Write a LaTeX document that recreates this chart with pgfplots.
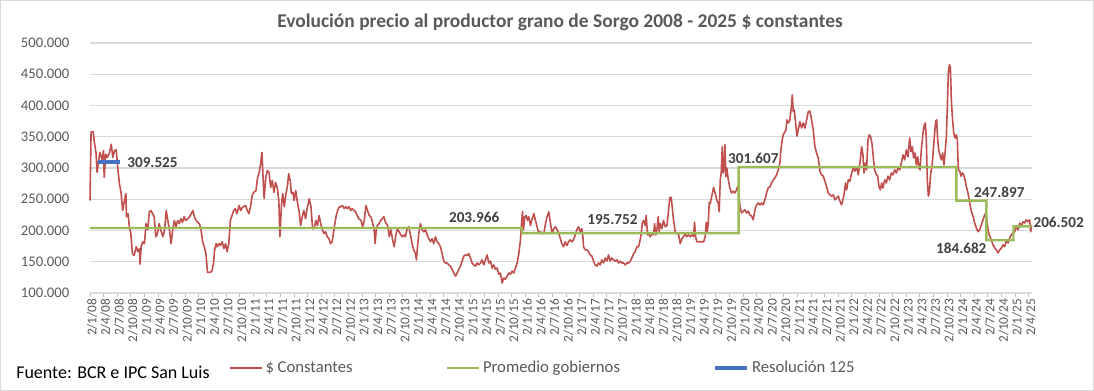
\documentclass[border=0pt]{standalone}
\usepackage{pgfplots}
\usepackage{pgfplotstable}
\pgfplotsset{compat=1.18}
\usepackage{fontspec}
\setmainfont{Carlito}
\definecolor{serred}{HTML}{C0504D}
\definecolor{sergreen}{HTML}{9BBB59}
\definecolor{serblue}{HTML}{4472C4}
\definecolor{gridgray}{HTML}{D9D9D9}
\definecolor{axisgray}{HTML}{BFBFBF}
\definecolor{txtgray}{HTML}{595959}
\definecolor{lblgray}{HTML}{404040}

\pgfplotstableread{
x y
2008.00 248
2008.02 358
2008.06 358
2008.08 341
2008.11 325
2008.13 293
2008.16 312
2008.18 325
2008.22 314
2008.25 328
2008.26 285
2008.29 322
2008.32 317
2008.36 325
2008.39 338
2008.42 317
2008.45 328
2008.48 329
2008.51 301
2008.54 275
2008.57 261
2008.60 232
2008.63 246
2008.66 259
2008.67 222
2008.70 227
2008.72 208
2008.75 195
2008.78 163
2008.81 160
2008.85 174
2008.88 166
2008.91 171
2008.92 146
2008.94 174
2008.97 182
2009.00 179
2009.03 211
2009.06 201
2009.09 230
2009.12 232
2009.15 227
2009.18 222
2009.21 190
2009.24 195
2009.27 211
2009.31 198
2009.34 190
2009.37 201
2009.40 232
2009.43 216
2009.46 201
2009.49 179
2009.52 201
2009.55 216
2009.58 206
2009.61 216
2009.64 211
2009.67 219
2009.70 213
2009.73 222
2009.76 216
2009.80 219
2009.83 222
2009.86 227
2009.89 232
2009.92 222
2009.95 216
2009.98 213
2010.01 211
2010.04 201
2010.07 182
2010.10 174
2010.13 163
2010.16 133
2010.21 133
2010.24 135
2010.27 148
2010.29 169
2010.32 179
2010.34 174
2010.37 179
2010.40 176
2010.43 182
2010.46 171
2010.49 179
2010.52 166
2010.55 179
2010.58 216
2010.61 224
2010.64 232
2010.67 235
2010.70 227
2010.74 240
2010.77 232
2010.80 237
2010.86 240
2010.89 232
2010.92 227
2010.95 238
2010.98 256
2011.01 261
2011.05 264
2011.08 285
2011.11 293
2011.14 309
2011.16 325
2011.18 285
2011.20 251
2011.23 285
2011.26 296
2011.29 293
2011.32 269
2011.35 280
2011.38 261
2011.41 277
2011.44 269
2011.47 248
2011.49 190
2011.52 243
2011.54 259
2011.57 238
2011.60 259
2011.63 272
2011.65 291
2011.68 280
2011.70 259
2011.73 261
2011.75 248
2011.78 264
2011.81 246
2011.84 232
2011.87 208
2011.90 222
2011.93 232
2011.96 219
2011.99 235
2012.03 251
2012.06 238
2012.09 203
2012.12 203
2012.15 216
2012.18 208
2012.21 224
2012.24 211
2012.27 201
2012.30 195
2012.33 198
2012.36 190
2012.39 187
2012.42 179
2012.45 182
2012.49 206
2012.52 222
2012.55 232
2012.58 238
2012.61 238
2012.64 240
2012.67 235
2012.70 238
2012.73 235
2012.76 238
2012.79 232
2012.82 235
2012.85 232
2012.88 230
2012.91 224
2012.94 219
2012.98 216
2013.01 206
2013.04 216
2013.07 240
2013.10 232
2013.13 224
2013.16 222
2013.19 213
2013.22 203
2013.24 179
2013.26 201
2013.28 208
2013.31 211
2013.34 216
2013.37 219
2013.40 222
2013.43 213
2013.47 208
2013.50 190
2013.53 201
2013.56 185
2013.59 174
2013.62 193
2013.65 203
2013.68 198
2013.71 193
2013.74 190
2013.766 193
2013.796 190
2013.827 203
2013.858 206
2013.888 193
2013.919 179
2013.949 169
2013.980 163
2013.998 153
2014.023 179
2014.041 195
2014.072 211
2014.103 201
2014.133 198
2014.164 201
2014.195 193
2014.225 187
2014.256 182
2014.286 187
2014.317 179
2014.348 190
2014.378 182
2014.409 179
2014.440 174
2014.470 163
2014.501 151
2014.532 148
2014.562 148
2014.593 145
2014.623 143
2014.654 138
2014.685 132
2014.715 127
2014.746 132
2014.777 138
2014.807 143
2014.838 151
2014.868 159
2014.899 161
2014.930 160
2014.960 163
2014.991 156
2015.022 148
2015.052 145
2015.083 143
2015.114 148
2015.144 145
2015.175 148
2015.205 153
2015.236 145
2015.267 153
2015.297 161
2015.328 148
2015.359 151
2015.389 140
2015.420 145
2015.451 138
2015.481 140
2015.512 130
2015.542 132
2015.573 116
2015.604 124
2015.634 122
2015.665 127
2015.696 132
2015.726 130
2015.757 135
2015.788 132
2015.818 140
2015.849 148
2015.879 163
2015.910 185
2015.928 209
2015.947 230
2015.965 201
2015.990 222
2016.014 224
2016.039 216
2016.063 222
2016.094 208
2016.125 219
2016.155 227
2016.186 216
2016.216 206
2016.247 195
2016.278 198
2016.308 195
2016.339 195
2016.370 211
2016.400 222
2016.431 230
2016.462 211
2016.492 195
2016.523 203
2016.553 206
2016.584 201
2016.615 195
2016.671 179
2016.701 174
2016.732 182
2016.763 176
2016.793 182
2016.824 185
2016.854 182
2016.885 185
2016.916 193
2016.946 201
2016.977 206
2017.008 198
2017.038 203
2017.057 190
2017.069 174
2017.100 169
2017.130 169
2017.161 166
2017.191 161
2017.222 159
2017.253 151
2017.283 145
2017.314 143
2017.345 148
2017.375 145
2017.406 153
2017.437 148
2017.467 156
2017.498 151
2017.528 161
2017.559 151
2017.590 156
2017.620 153
2017.651 151
2017.682 153
2017.712 148
2017.743 151
2017.774 148
2017.804 148
2017.835 145
2017.865 148
2017.896 148
2017.927 151
2017.957 156
2017.988 163
2018.019 166
2018.049 174
2018.080 174
2018.110 185
2018.129 195
2018.147 211
2018.172 216
2018.202 208
2018.221 224
2018.245 193
2018.264 195
2018.294 190
2018.325 195
2018.356 193
2018.374 211
2018.398 193
2018.417 201
2018.441 222
2018.460 198
2018.478 211
2018.509 203
2018.539 216
2018.570 206
2018.601 208
2018.631 232
2018.656 253
2018.680 253
2018.705 232
2018.723 216
2018.754 198
2018.784 195
2018.815 194
2018.846 179
2018.876 187
2018.907 190
2018.938 195
2018.968 190
2018.999 193
2019.030 190
2019.060 193
2019.091 190
2019.109 213
2019.128 190
2019.152 182
2019.183 182
2019.213 182
2019.244 182
2019.275 182
2019.305 190
2019.324 213
2019.342 198
2019.360 211
2019.379 245
2019.397 243
2019.428 256
2019.458 269
2019.489 259
2019.520 248
2019.544 244
2019.562 230
2019.581 281
2019.599 292
2019.618 334
2019.636 292
2019.654 302
2019.667 337
2019.685 286
2019.703 300
2019.728 281
2019.758 268
2019.789 260
2019.820 263
2019.850 260
2019.881 265
2019.899 270
2019.924 262
2019.942 239
2019.973 228
2020.004 231
2020.034 233
2020.065 228
2020.095 231
2020.126 225
2020.157 223
2020.187 217
2020.218 233
2020.249 241
2020.279 244
2020.310 241
2020.340 244
2020.371 241
2020.402 249
2020.432 260
2020.463 268
2020.494 270
2020.524 276
2020.555 281
2020.585 284
2020.616 289
2020.647 297
2020.677 308
2020.696 329
2020.720 345
2020.739 353
2020.769 358
2020.788 361
2020.806 377
2020.831 372
2020.861 377
2020.892 401
2020.904 417
2020.923 390
2020.941 393
2020.966 372
2020.990 351
2021.015 361
2021.045 374
2021.076 364
2021.106 372
2021.137 364
2021.168 377
2021.198 390
2021.229 391
2021.260 377
2021.290 361
2021.321 334
2021.351 324
2021.382 316
2021.413 295
2021.443 289
2021.474 287
2021.505 279
2021.535 270
2021.566 260
2021.597 257
2021.627 255
2021.658 257
2021.688 249
2021.719 252
2021.750 255
2021.780 247
2021.811 241
2021.842 252
2021.860 260
2021.884 276
2021.903 265
2021.934 281
2021.964 279
2021.995 292
2022.025 300
2022.056 295
2022.087 302
2022.117 289
2022.148 308
2022.179 334
2022.203 321
2022.221 292
2022.246 308
2022.270 297
2022.295 345
2022.319 353
2022.344 350
2022.368 340
2022.393 318
2022.417 297
2022.449 290
2022.474 287
2022.498 270
2022.523 265
2022.547 276
2022.572 268
2022.602 281
2022.633 276
2022.663 287
2022.694 281
2022.725 292
2022.755 289
2022.786 297
2022.817 292
2022.847 300
2022.878 297
2022.909 308
2022.939 321
2022.970 313
2023.000 329
2023.031 318
2023.062 348
2023.086 326
2023.111 334
2023.135 316
2023.160 324
2023.184 305
2023.209 318
2023.233 300
2023.252 297
2023.276 329
2023.307 356
2023.331 369
2023.350 372
2023.368 345
2023.386 281
2023.405 255
2023.423 260
2023.448 292
2023.472 302
2023.497 329
2023.521 356
2023.540 375
2023.558 377
2023.576 345
2023.595 329
2023.619 321
2023.644 313
2023.668 324
2023.693 305
2023.717 329
2023.736 350
2023.754 398
2023.772 452
2023.791 465
2023.809 462
2023.828 409
2023.846 382
2023.871 356
2023.895 348
2023.920 353
2023.938 345
2023.956 297
2023.981 295
2024.005 287
2024.030 292
2024.054 289
2024.079 281
2024.103 270
2024.134 260
2024.165 244
2024.195 231
2024.226 223
2024.256 212
2024.287 204
2024.318 198
2024.348 201
2024.379 209
2024.410 217
2024.440 225
2024.459 228
2024.483 214
2024.508 198
2024.532 191
2024.563 185
2024.593 177
2024.624 172
2024.655 169
2024.685 164
2024.716 169
2024.747 172
2024.777 177
2024.808 174
2024.839 185
2024.869 180
2024.900 188
2024.930 193
2024.961 196
2024.992 198
2025.022 207
2025.053 201
2025.084 212
2025.114 207
2025.145 214
2025.176 212
2025.206 217
2025.237 214
2025.267 217
2025.286 198
2025.304 209
}\constantes

\pgfplotstableread{
x y
2008.00 203.966
2015.93 203.966
2015.94 195.752
2019.92 195.752
2019.92 301.607
2023.92 301.607
2023.92 247.897
2024.47 247.897
2024.47 184.682
2024.97 184.682
2024.97 206.502
2025.305 206.502
}\promedio

\pgfplotstableread{
x y
2008.14 309.525
2008.55 309.525
}\resolucion

\begin{document}
\begin{tikzpicture}
\useasboundingbox (0pt,0pt) rectangle (820.5pt,293.25pt);
\draw[gridgray, line width=0.75pt] (0.375pt,0.375pt) rectangle (820.125pt,292.875pt);
\node[font=\fontsize{14.6}{17}\selectfont\bfseries, text=txtgray] at (420pt,276.75pt) {Evolución precio al productor grano de Sorgo 2008 - 2025 \$ constantes};
\node[anchor=west, font=\fontsize{13.5}{16}\selectfont, inner sep=0pt] at (12pt,14.25pt) {Fuente: BCR e IPC San Luis};
\begin{axis}[
  at={(67.5pt,73.5pt)}, anchor=south west,
  scale only axis, width=706.5pt, height=187.5pt,
  xmin=2008, xmax=2025.31, ymin=100, ymax=500,
  clip=false,
  separate axis lines,
  axis x line*=bottom, axis y line*=left,
  x axis line style={draw=gridgray, line width=1pt, -},
  y axis line style={draw=none},
  ymajorgrids, grid style={gridgray, line width=1pt},
  ytick={100,150,200,250,300,350,400,450,500},
  yticklabels={100.000,150.000,200.000,250.000,300.000,350.000,400.000,450.000,500.000},
  ytick style={draw=none},
  yticklabel style={font=\fontsize{11}{13}\selectfont, text=txtgray, xshift=-9pt},
  xtick={2008,2008.25,...,2025.3},
  xticklabels={2/1/08,2/4/08,2/7/08,2/10/08,2/1/09,2/4/09,2/7/09,2/10/09,2/1/10,2/4/10,2/7/10,2/10/10,2/1/11,2/4/11,2/7/11,2/10/11,2/1/12,2/4/12,2/7/12,2/10/12,2/1/13,2/4/13,2/7/13,2/10/13,2/1/14,2/4/14,2/7/14,2/10/14,2/1/15,2/4/15,2/7/15,2/10/15,2/1/16,2/4/16,2/7/16,2/10/16,2/1/17,2/4/17,2/7/17,2/10/17,2/1/18,2/4/18,2/7/18,2/10/18,2/1/19,2/4/19,2/7/19,2/10/19,2/1/20,2/4/20,2/7/20,2/10/20,2/1/21,2/4/21,2/7/21,2/10/21,2/1/22,2/4/22,2/7/22,2/10/22,2/1/23,2/4/23,2/7/23,2/10/23,2/1/24,2/4/24,2/7/24,2/10/24,2/1/25,2/4/25},
  xticklabel style={rotate=90, anchor=east, font=\fontsize{10}{12}\selectfont, text=txtgray, inner sep=1pt, yshift=-1.5pt},
  xtick style={draw=axisgray, line width=0.75pt},
  tick align=outside, major tick length=3pt,
  scaled ticks=false,
  legend columns=3,
  legend style={at={(axis description cs:0.1433,-0.30)}, anchor=west, draw=none, fill=none,
    font=\fontsize{12.5}{14}\selectfont, text=txtgray,
    /tikz/every even column/.append style={column sep=68pt}},
  legend cell align=left,
  legend image code/.code={\draw[#1] (0pt,0pt) -- (24pt,0pt);},
]
\addplot[serred, line width=1.2pt, line join=round] table[x=x,y=y] {\constantes};
\addlegendentry{\$ Constantes}
\addplot[sergreen, line width=1.8pt] table[x=x,y=y] {\promedio};
\addlegendentry{Promedio gobiernos}
\addplot[serblue, line width=3pt] table[x=x,y=y] {\resolucion};
\addlegendentry{Resolución 125}
\begin{scope}[every node/.style={font=\fontsize{11.4}{13}\selectfont\bfseries, text=lblgray}]
\node[anchor=west] at (axis cs:2008.60,309.0) {309.525};
\node at (axis cs:2015.06,221.6) {203.966};
\node at (axis cs:2017.60,216.8) {195.752};
\node at (axis cs:2020.19,316.0) {301.607};
\node at (axis cs:2024.71,261.6) {247.897};
\node at (axis cs:2024.01,172.0) {184.682};
\node at (axis cs:2025.80,213.6) {206.502};
\end{scope}
\end{axis}
\end{tikzpicture}
\end{document}
